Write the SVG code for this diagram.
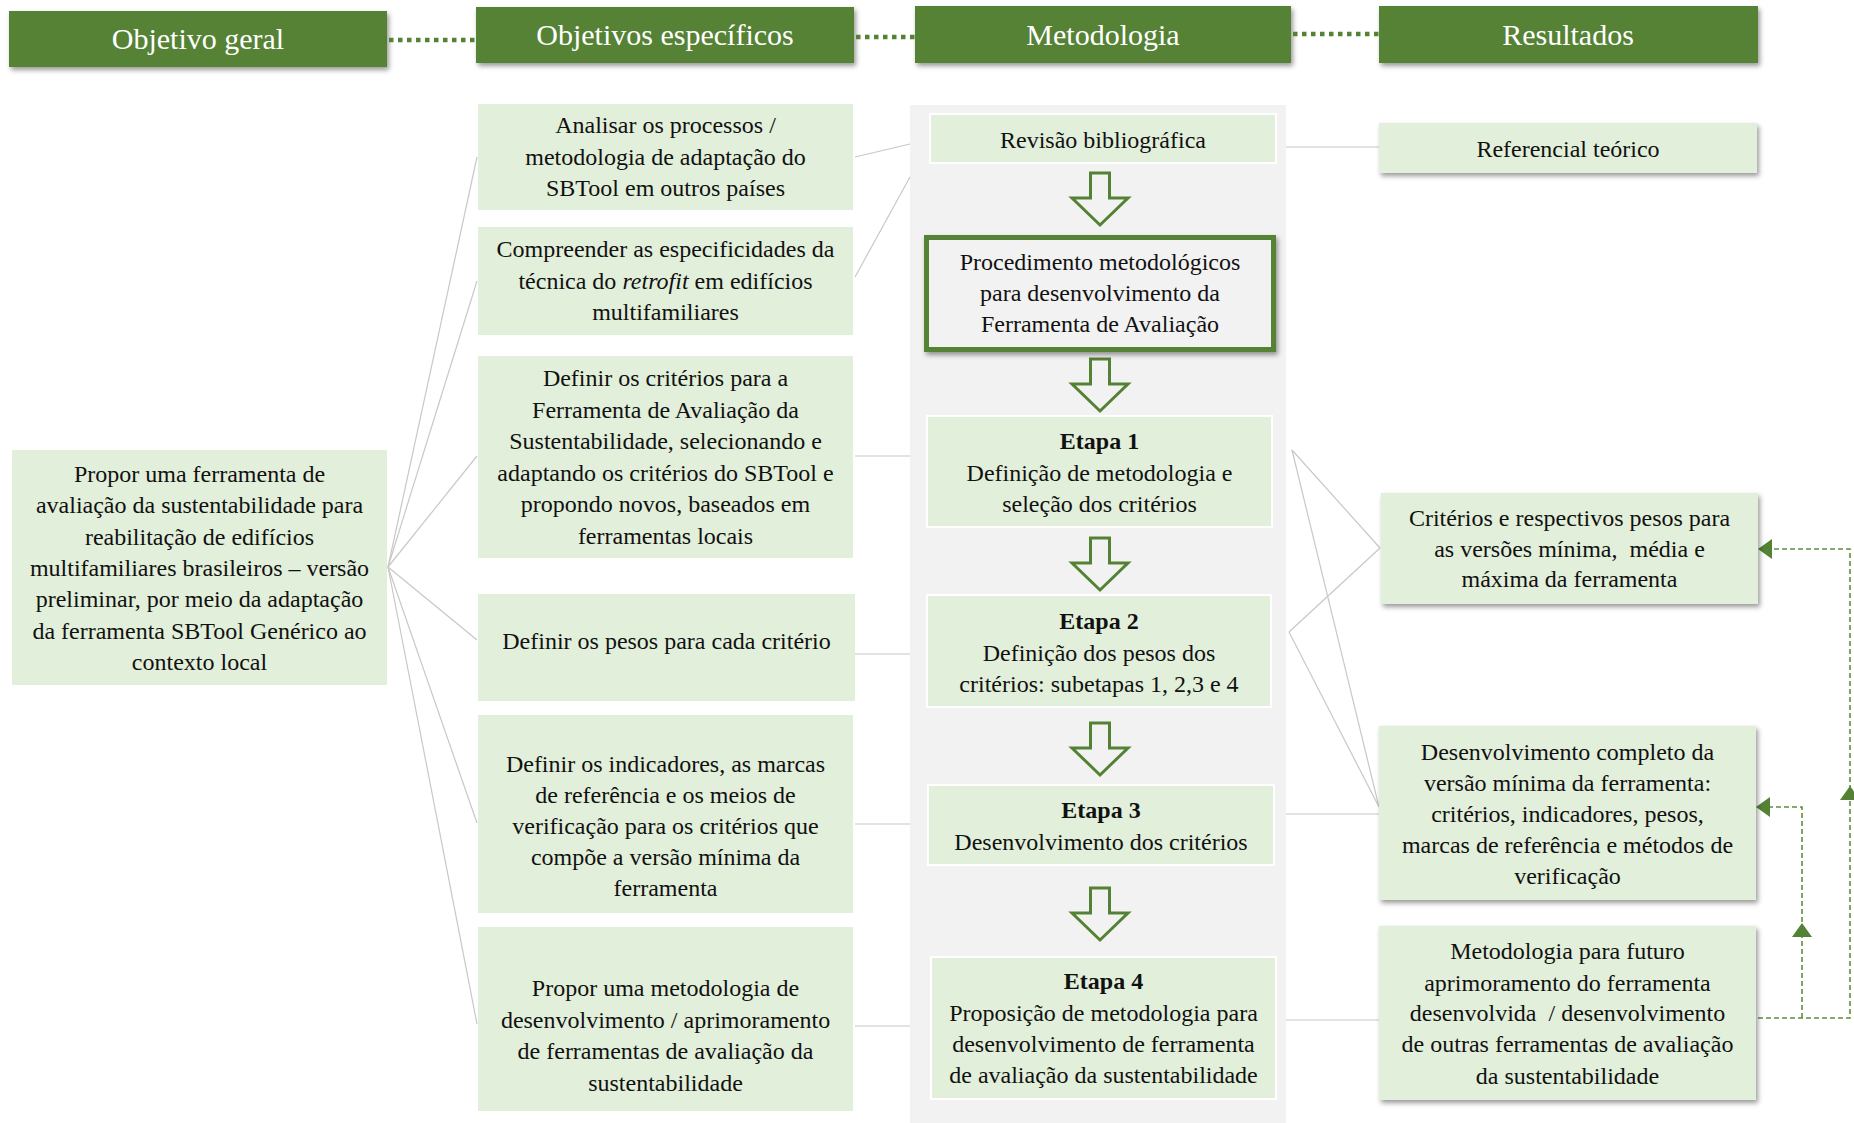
<svg xmlns="http://www.w3.org/2000/svg" xmlns:xlink="http://www.w3.org/1999/xlink" width="1854" height="1123" viewBox="0 0 1854 1123">
  <defs>
    <filter id="shadow" x="-10%" y="-20%" width="130%" height="150%">
      <feDropShadow dx="2" dy="3" stdDeviation="2.5" flood-color="#000" flood-opacity="0.4"/>
    </filter>
    <path id="down-arrow" d="M-9.5,0 H9.5 V25 H28 L0,52 L-28,25 H-9.5 Z"/>
    <style>
      .hdr { fill: #548235; filter: url(#shadow); }
      .ht { font-family: "Liberation Serif", "Times New Roman", serif; font-size: 30px; fill: #ffffff; text-anchor: middle; }
      .box { fill: #e2efda; }
      .mbox { fill: #e2efda; stroke: #ffffff; stroke-width: 2; }
      .rbox { fill: #e2efda; filter: url(#shadow); }
      .t { font-family: "Liberation Serif", "Times New Roman", serif; font-size: 24px; fill: #111111; text-anchor: middle; }
      .b { font-weight: bold; }
      .conn { stroke: #c8c8c8; stroke-width: 1.2; fill: none; }
      .dots { stroke: #548235; stroke-width: 4.5; stroke-dasharray: 4.5 4.5; fill: none; }
      .fb { stroke: #5f8f3e; stroke-width: 1.6; stroke-dasharray: 5 3; fill: none; }
      .fbhead { fill: #548235; }
      .flow { fill: #f2f2f2; stroke: #548235; stroke-width: 3; stroke-linejoin: miter; }
    </style>
  </defs>

  <rect width="1854" height="1123" fill="#ffffff"/>

  <!-- column headers -->
  <g id="hdr-objetivo-geral">
    <rect class="hdr" x="9" y="11" width="378" height="56"/>
    <text class="ht" x="198" y="49">Objetivo geral</text>
  </g>
  <g id="hdr-objetivos-especificos">
    <rect class="hdr" x="476" y="7" width="378" height="56"/>
    <text class="ht" x="665" y="45">Objetivos específicos</text>
  </g>
  <g id="hdr-metodologia">
    <rect class="hdr" x="915" y="6" width="376" height="57"/>
    <text class="ht" x="1103" y="45">Metodologia</text>
  </g>
  <g id="hdr-resultados">
    <rect class="hdr" x="1379" y="6" width="379" height="57"/>
    <text class="ht" x="1568" y="45">Resultados</text>
  </g>

  <!-- methodology column background -->
  <rect id="metodologia-panel" x="910" y="105" width="376" height="1018" fill="#f2f2f2"/>

  <!-- connectors -->
  <g id="connectors">
    <!-- header links -->
    <line class="dots" x1="389" y1="40" x2="476" y2="40"/>
    <line class="dots" x1="856" y1="37" x2="915" y2="37"/>
    <line class="dots" x1="1293" y1="34" x2="1379" y2="34"/>

    <!-- general objective to specific objectives -->
    <line class="conn" x1="388" y1="567" x2="477" y2="157"/>
    <line class="conn" x1="388" y1="567" x2="477" y2="281"/>
    <line class="conn" x1="388" y1="567" x2="477" y2="456"/>
    <line class="conn" x1="388" y1="567" x2="477" y2="640"/>
    <line class="conn" x1="388" y1="567" x2="477" y2="823"/>
    <line class="conn" x1="388" y1="567" x2="477" y2="1024"/>

    <!-- specific objectives to methodology -->
    <line class="conn" x1="855" y1="157" x2="910" y2="144"/>
    <line class="conn" x1="855" y1="277" x2="910" y2="177"/>
    <line class="conn" x1="855" y1="456" x2="910" y2="456"/>
    <line class="conn" x1="855" y1="654" x2="910" y2="654"/>
    <line class="conn" x1="855" y1="824" x2="910" y2="824"/>
    <line class="conn" x1="855" y1="1026" x2="910" y2="1026"/>

    <!-- methodology to results -->
    <line class="conn" x1="1286" y1="147" x2="1379" y2="147"/>
    <line class="conn" x1="1292" y1="450" x2="1380" y2="548"/>
    <line class="conn" x1="1292" y1="450" x2="1379" y2="807"/>
    <line class="conn" x1="1289" y1="632" x2="1380" y2="548"/>
    <line class="conn" x1="1289" y1="632" x2="1379" y2="807"/>
    <line class="conn" x1="1286" y1="814" x2="1379" y2="814"/>
    <line class="conn" x1="1286" y1="1020" x2="1379" y2="1020"/>

    <!-- feedback loops -->
    <polyline class="fb" points="1758,1018 1850,1018 1850,549 1771,549"/>
    <polyline class="fb" points="1802,1018 1802,807 1769,807"/>
    <path class="fbhead" d="M1758,549 L1772,539 L1772,559 Z"/>
    <path class="fbhead" d="M1756,807 L1770,797 L1770,817 Z"/>
    <path class="fbhead" d="M1850,786 L1840,800 L1860,800 Z"/>
    <path class="fbhead" d="M1802,923 L1792,937 L1812,937 Z"/>

    <!-- flow arrows in methodology -->
    <use xlink:href="#down-arrow" class="flow" x="1100" y="173"/>
    <use xlink:href="#down-arrow" class="flow" x="1100" y="359"/>
    <use xlink:href="#down-arrow" class="flow" x="1100" y="538"/>
    <use xlink:href="#down-arrow" class="flow" x="1100" y="723"/>
    <use xlink:href="#down-arrow" class="flow" x="1100" y="888"/>
  </g>

  <!-- general objective -->
  <g id="objetivo-geral">
    <rect class="box" x="12" y="450" width="375" height="235"/>
    <text class="t" x="199.5" y="482">Propor uma ferramenta de</text>
    <text class="t" x="199.5" y="513">avaliação da sustentabilidade para</text>
    <text class="t" x="199.5" y="545">reabilitação de edifícios</text>
    <text class="t" x="199.5" y="576">multifamiliares brasileiros – versão</text>
    <text class="t" x="199.5" y="607">preliminar, por meio da adaptação</text>
    <text class="t" x="199.5" y="639">da ferramenta SBTool Genérico ao</text>
    <text class="t" x="199.5" y="670">contexto local</text>
  </g>

  <!-- specific objectives -->
  <g id="obj-analisar">
    <rect class="box" x="478" y="104" width="375" height="106"/>
    <text class="t" x="665.5" y="133">Analisar os processos /</text>
    <text class="t" x="665.5" y="165">metodologia de adaptação do</text>
    <text class="t" x="665.5" y="196">SBTool em outros países</text>
  </g>
  <g id="obj-compreender">
    <rect class="box" x="478" y="227" width="375" height="108"/>
    <text class="t" x="665.5" y="257">Compreender as especificidades da</text>
    <text class="t" x="665.5" y="289">técnica do <tspan font-style="italic">retrofit</tspan> em edifícios</text>
    <text class="t" x="665.5" y="320">multifamiliares</text>
  </g>
  <g id="obj-criterios">
    <rect class="box" x="478" y="356" width="375" height="202"/>
    <text class="t" x="665.5" y="386">Definir os critérios para a</text>
    <text class="t" x="665.5" y="418">Ferramenta de Avaliação da</text>
    <text class="t" x="665.5" y="449">Sustentabilidade, selecionando e</text>
    <text class="t" x="665.5" y="481">adaptando os critérios do SBTool e</text>
    <text class="t" x="665.5" y="512">propondo novos, baseados em</text>
    <text class="t" x="665.5" y="544">ferramentas locais</text>
  </g>
  <g id="obj-pesos">
    <rect class="box" x="478" y="594" width="377" height="107"/>
    <text class="t" x="666.5" y="649">Definir os pesos para cada critério</text>
  </g>
  <g id="obj-indicadores">
    <rect class="box" x="478" y="715" width="375" height="198"/>
    <text class="t" x="665.5" y="772">Definir os indicadores, as marcas</text>
    <text class="t" x="665.5" y="803">de referência e os meios de</text>
    <text class="t" x="665.5" y="834">verificação para os critérios que</text>
    <text class="t" x="665.5" y="865">compõe a versão mínima da</text>
    <text class="t" x="665.5" y="896">ferramenta</text>
  </g>
  <g id="obj-propor">
    <rect class="box" x="478" y="927" width="375" height="184"/>
    <text class="t" x="665.5" y="996">Propor uma metodologia de</text>
    <text class="t" x="665.5" y="1028">desenvolvimento / aprimoramento</text>
    <text class="t" x="665.5" y="1059">de ferramentas de avaliação da</text>
    <text class="t" x="665.5" y="1091">sustentabilidade</text>
  </g>

  <!-- methodology steps -->
  <g id="met-revisao">
    <rect class="mbox" x="930" y="114" width="346" height="49"/>
    <text class="t" x="1103" y="148">Revisão bibliográfica</text>
  </g>
  <g id="met-procedimento">
    <rect x="926.5" y="237.5" width="347" height="112" fill="#f2f2f2" stroke="#548235" stroke-width="5" filter="url(#shadow)"/>
    <text class="t" x="1100" y="270">Procedimento metodológicos</text>
    <text class="t" x="1100" y="301">para desenvolvimento da</text>
    <text class="t" x="1100" y="332">Ferramenta de Avaliação</text>
  </g>
  <g id="met-etapa1">
    <rect class="mbox" x="927" y="416" width="345" height="111"/>
    <text class="t b" x="1099.5" y="449">Etapa 1</text>
    <text class="t" x="1099.5" y="481">Definição de metodologia e</text>
    <text class="t" x="1099.5" y="512">seleção dos critérios</text>
  </g>
  <g id="met-etapa2">
    <rect class="mbox" x="927" y="595" width="344" height="112"/>
    <text class="t b" x="1099" y="629">Etapa 2</text>
    <text class="t" x="1099" y="661">Definição dos pesos dos</text>
    <text class="t" x="1099" y="692">critérios: subetapas 1, 2,3 e 4</text>
  </g>
  <g id="met-etapa3">
    <rect class="mbox" x="928" y="785" width="346" height="80"/>
    <text class="t b" x="1101" y="818">Etapa 3</text>
    <text class="t" x="1101" y="850">Desenvolvimento dos critérios</text>
  </g>
  <g id="met-etapa4">
    <rect class="mbox" x="931" y="957" width="345" height="142"/>
    <text class="t b" x="1103.5" y="989">Etapa 4</text>
    <text class="t" x="1103.5" y="1021">Proposição de metodologia para</text>
    <text class="t" x="1103.5" y="1052">desenvolvimento de ferramenta</text>
    <text class="t" x="1103.5" y="1083">de avaliação da sustentabilidade</text>
  </g>

  <!-- results -->
  <g id="res-referencial">
    <rect class="rbox" x="1379" y="123" width="378" height="50"/>
    <text class="t" x="1568" y="157">Referencial teórico</text>
  </g>
  <g id="res-criterios">
    <rect class="rbox" x="1381" y="493" width="377" height="111"/>
    <text class="t" x="1569.5" y="526">Critérios e respectivos pesos para</text>
    <text class="t" x="1569.5" y="557" xml:space="preserve">as versões mínima,  média e</text>
    <text class="t" x="1569.5" y="587">máxima da ferramenta</text>
  </g>
  <g id="res-desenvolvimento">
    <rect class="rbox" x="1379" y="726" width="377" height="174"/>
    <text class="t" x="1567.5" y="760">Desenvolvimento completo da</text>
    <text class="t" x="1567.5" y="791">versão mínima da ferramenta:</text>
    <text class="t" x="1567.5" y="822">critérios, indicadores, pesos,</text>
    <text class="t" x="1567.5" y="853">marcas de referência e métodos de</text>
    <text class="t" x="1567.5" y="884">verificação</text>
  </g>
  <g id="res-metodologia-futuro">
    <rect class="rbox" x="1379" y="926" width="377" height="174"/>
    <text class="t" x="1567.5" y="959">Metodologia para futuro</text>
    <text class="t" x="1567.5" y="991">aprimoramento do ferramenta</text>
    <text class="t" x="1567.5" y="1021" xml:space="preserve">desenvolvida  / desenvolvimento</text>
    <text class="t" x="1567.5" y="1052">de outras ferramentas de avaliação</text>
    <text class="t" x="1567.5" y="1084">da sustentabilidade</text>
  </g>
</svg>
